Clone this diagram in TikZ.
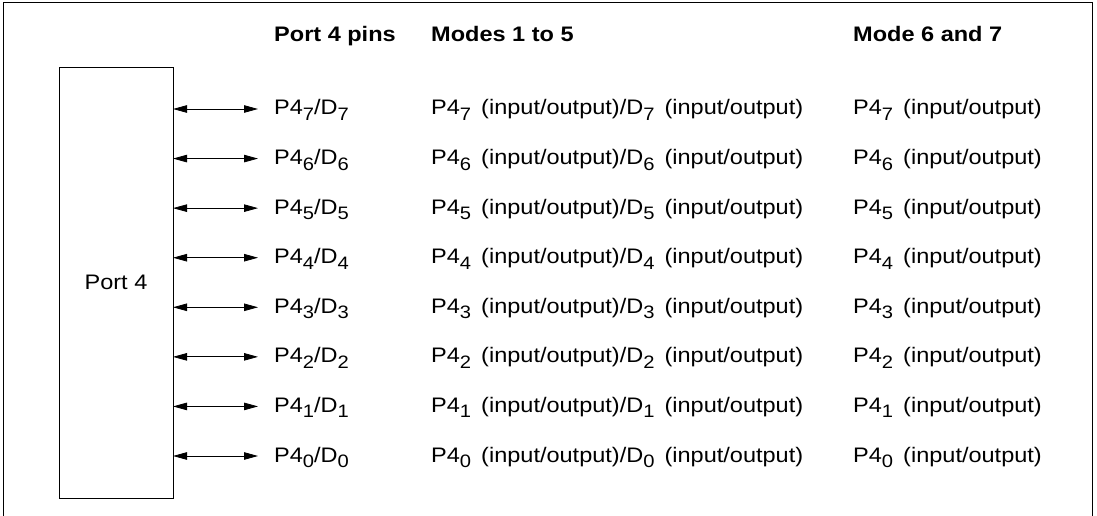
\documentclass[tikz,border=0pt]{standalone}
\usepackage{fontspec}
\setmainfont{Liberation Sans}[FakeStretch=1.12]
\usetikzlibrary{arrows.meta}
\newcommand{\pinsub}[1]{\raisebox{-5.5pt}{\fontsize{18}{20}\selectfont #1}}
\newcommand{\pinsubsp}[1]{\pinsub{#1}\hspace{3.5pt}}
\tikzset{
  frameline/.style={draw, line width=0.9pt},
  portbox/.style={draw, line width=0.9pt},
  biarrow/.style={line width=0.8pt, {Triangle[length=14pt,width=7.5pt]}-{Triangle[length=14pt,width=7.5pt]}},
  txt/.style={anchor=base west, inner sep=0pt, font=\fontsize{21}{24}\selectfont},
  head/.style={txt, font=\fontsize{21}{24}\selectfont\bfseries},
}
\begin{document}
\begin{tikzpicture}[x=1pt,y=-1pt]
\useasboundingbox (0,0) rectangle (1097,516);
\draw[frameline] (3,517.5) -- (3,2) -- (1092,2) -- (1092,517.5);
\node[portbox, minimum width=114pt, minimum height=431pt, inner sep=0pt,
      font=\fontsize{21}{24}\selectfont] (port) at (116,282.5) {Port 4};
\node[head] (h1) at (274,42) {Port 4 pins};
\node[head] (h2) at (431,42) {Modes 1 to 5};
\node[head] (h3) at (853,42) {Mode 6 and 7};
\foreach \i/\n in {0/7,1/6,2/5,3/4,4/3,5/2,6/1,7/0}{
  \pgfmathsetmacro{\yy}{109+49.571*\i}
  \coordinate (s\n) at (173,\yy);
  \coordinate (e\n) at (258,\yy);
  \draw[biarrow] (s\n) -- (e\n);
  \node[txt] (p\n) at (274,\yy+6) {P4\pinsub{\n}/D\pinsub{\n}};
  \node[txt] (m\n) at (431,\yy+6) {P4\pinsubsp{\n} (input/output)/D\pinsubsp{\n} (input/output)};
  \node[txt] (q\n) at (853,\yy+6) {P4\pinsubsp{\n} (input/output)};
}
\end{tikzpicture}
\end{document}
